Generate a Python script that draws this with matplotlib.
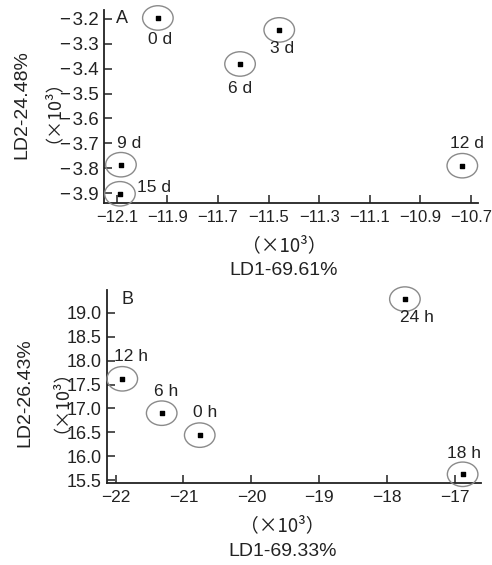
import matplotlib
matplotlib.use("Agg")
import matplotlib.pyplot as plt
from matplotlib.path import Path
from matplotlib.transforms import Affine2D
from matplotlib.markers import MarkerStyle

plt.rcParams['font.family'] = ['Liberation Sans', 'Noto Sans CJK SC', 'DejaVu Sans']

# ---- Panel A data ----
a_labels = ["0 d", "3 d", "6 d", "9 d", "15 d", "12 d"]
a_x = [-11.938, -11.458, -11.613, -12.084, -12.088, -10.734]
a_y = [-3.196, -3.244, -3.381, -3.786, -3.903, -3.790]
a_xticks = [-12.1, -11.9, -11.7, -11.5, -11.3, -11.1, -10.9, -10.7]
a_yticks = [-3.2, -3.3, -3.4, -3.5, -3.6, -3.7, -3.8, -3.9]
a_xlabel = "LD1-69.61%"
a_ylabel = "LD2-24.48%"

# ---- Panel B data ----
b_labels = ["12 h", "6 h", "0 h", "24 h", "18 h"]
b_x = [-21.90, -21.32, -20.76, -17.74, -16.89]
b_y = [17.62, 16.90, 16.44, 19.29, 15.62]
b_xticks = [-22, -21, -20, -19, -18, -17]
b_yticks = [15.5, 16.0, 16.5, 17.0, 17.5, 18.0, 18.5, 19.0]
b_xlabel = "LD1-69.33%"
b_ylabel = "LD2-26.43%"

unit_text = "（×10³）"

# label offsets in pixels (dx, dy)
a_off = [(2, -22), (3, -19), (0, -25), (8, 21), (34, 6), (5, 22)]
b_off = [(9, 22), (4, 22), (5, 23), (12, -18), (1, 21)]

fig = plt.figure(figsize=(4.92, 5.65), dpi=100)

ell_path = Path.unit_circle().transformed(Affine2D().scale(1.25, 1.0))
ell_marker = MarkerStyle(ell_path)

TXT = '#222222'
CJK = ['Noto Sans CJK SC', 'DejaVu Sans']

def fmt(v, dec, gap):
    s = f"{abs(v):.{dec}f}"
    return (("−" + gap) if v < 0 else "") + s

def style_axes(ax, xticks, yticks, xdec, ydec, xsize, ysize):
    for s in ['top', 'right']:
        ax.spines[s].set_visible(False)
    for s in ['left', 'bottom']:
        ax.spines[s].set_linewidth(1.3)
        ax.spines[s].set_color(TXT)
    ax.set_xticks(xticks)
    ax.set_xticklabels([fmt(v, xdec, "") for v in xticks])
    ax.set_yticks(yticks)
    ax.set_yticklabels([fmt(v, ydec, "\u200a") for v in yticks])
    ax.tick_params(direction='in', length=6, width=1.1, color=TXT,
                   labelcolor=TXT, pad=4)
    ax.tick_params(axis='x', labelsize=xsize, pad=5)
    ax.tick_params(axis='y', labelsize=ysize, pad=4)

def draw(ax, xs, ys, labels, offs):
    ax.scatter(xs, ys, marker=ell_marker, s=22**2, facecolors='none',
               edgecolors='#8a8a8a', linewidths=1.0, clip_on=False, zorder=3)
    ax.scatter(xs, ys, marker='s', s=9, color='black', clip_on=False, zorder=4)
    for x, y, lab, (dx, dy) in zip(xs, ys, labels, offs):
        ax.annotate(lab, (x, y), xytext=(dx * 0.72, dy * 0.72),
                    textcoords='offset points', ha='center', va='center',
                    fontsize=12.5, color=TXT, annotation_clip=False)

# Panel A
axA = fig.add_axes([0.2114, 0.6407, 0.7601, 0.3416])
draw(axA, a_x, a_y, a_labels, a_off)
axA.set_xlim(-12.151, -10.672)
axA.set_ylim(-3.94, -3.164)
style_axes(axA, a_xticks, a_yticks, 1, 1, 12, 13.5)
axA.text(0.048, 0.955, "A", transform=axA.transAxes, fontsize=13,
         ha='center', va='center', color=TXT)

# Panel B
axB = fig.add_axes([0.2175, 0.1451, 0.7601, 0.3416])
draw(axB, b_x, b_y, b_labels, b_off)
axB.set_xlim(-22.125, -16.62)
axB.set_ylim(15.437, 19.48)
style_axes(axB, b_xticks, b_yticks, 0, 1, 12.5, 13)
axB.text(0.055, 0.95, "B", transform=axB.transAxes, fontsize=13,
         ha='center', va='center', color=TXT)

# axis titles (figure coords)
def px(x, y):
    return x / 492, 1 - y / 565

fig.text(*px(284, 246), unit_text, ha='center', va='center', fontsize=13.5,
         color=TXT, family=CJK)
fig.text(*px(284, 270), a_xlabel, ha='center', va='center', fontsize=14, color=TXT)
fig.text(*px(22, 105), a_ylabel, ha='center', va='center', rotation=90, fontsize=14, color=TXT)
fig.text(*px(44, 102), unit_text, ha='center', va='center', rotation=90, fontsize=13,
         color=TXT, family=CJK)

fig.text(*px(282, 526), unit_text, ha='center', va='center', fontsize=13.5,
         color=TXT, family=CJK)
fig.text(*px(283, 552), b_xlabel, ha='center', va='center', fontsize=14, color=TXT)
fig.text(*px(25, 393), b_ylabel, ha='center', va='center', rotation=90, fontsize=14, color=TXT)
fig.text(*px(52, 392), unit_text, ha='center', va='center', rotation=90, fontsize=13,
         color=TXT, family=CJK)

fig.savefig("out.png", dpi=100)
